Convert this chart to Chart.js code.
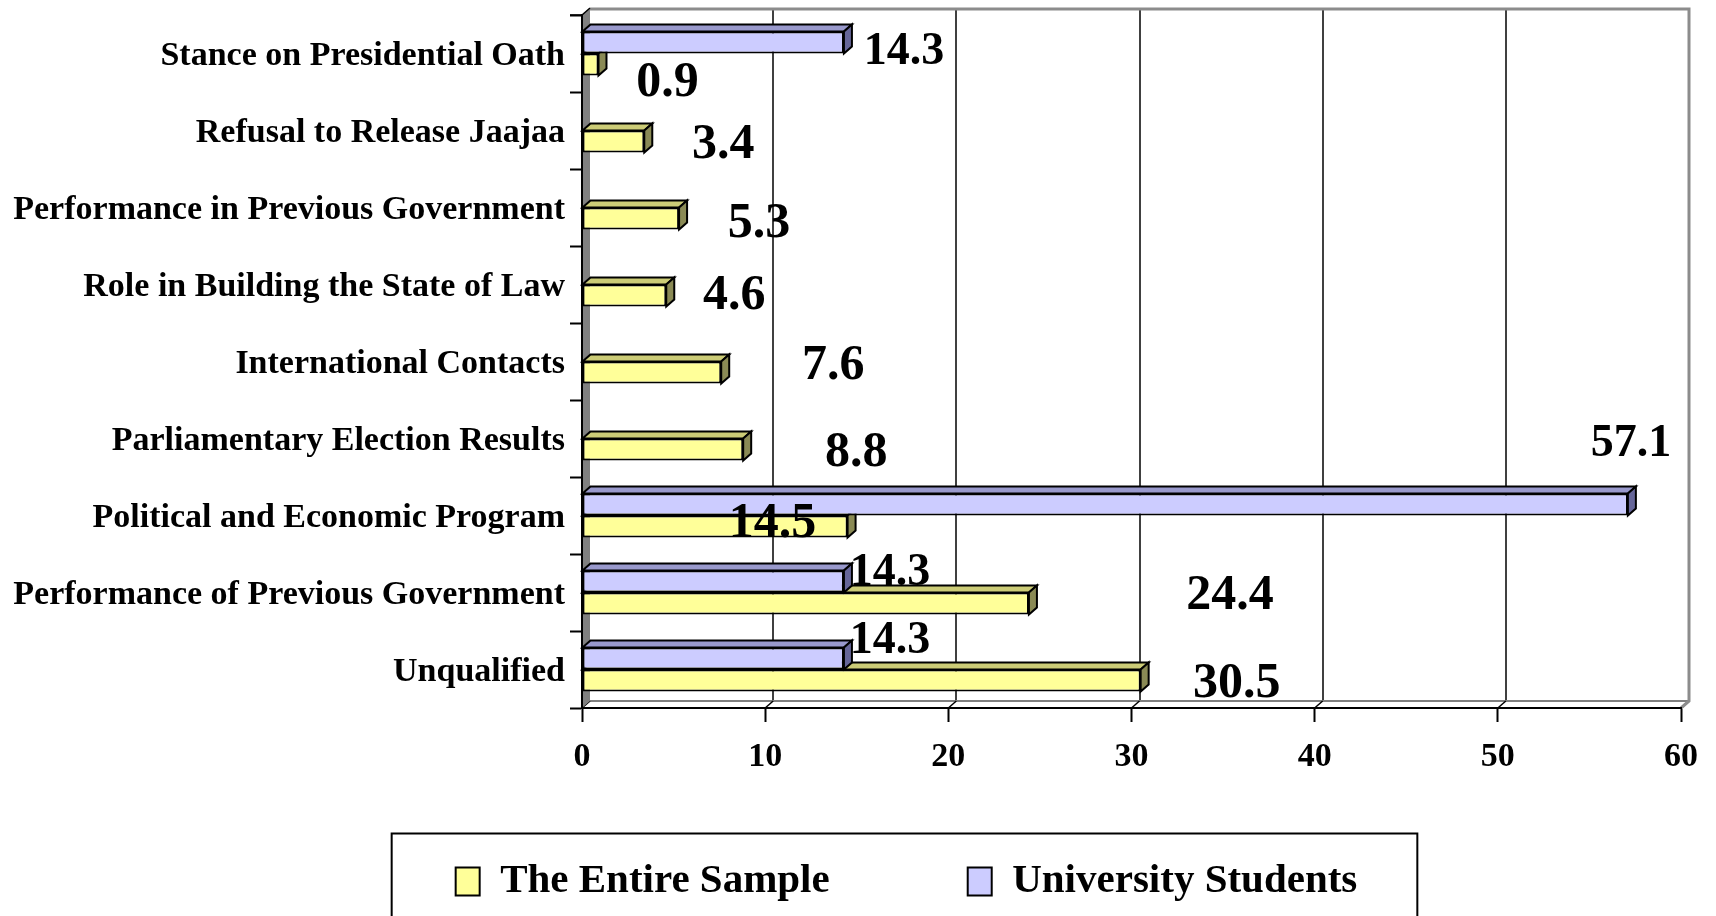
<!DOCTYPE html>
<html>
<head>
<meta charset="utf-8">
<script src="https://cdn.jsdelivr.net/npm/chart.js@4/dist/chart.umd.min.js"></script>
<style>
html,body{margin:0;padding:0;background:#fff;}
#wrap{width:1716px;height:916px;position:relative;}
</style>
</head>
<body>
<div id="wrap"><canvas id="c" width="1716" height="916"></canvas></div>
<script>
// ---- data ----
const categories = [
  'Stance on Presidential Oath',
  'Refusal to Release Jaajaa',
  'Performance in Previous Government',
  'Role in Building the State of Law',
  'International Contacts',
  'Parliamentary Election Results',
  'Political and Economic Program',
  'Performance of Previous Government',
  'Unqualified'
];
const entireSample       = [0.9, 3.4, 5.3, 4.6, 7.6, 8.8, 14.5, 24.4, 30.5];
const universityStudents = [14.3, 0, 0, 0, 0, 0, 57.1, 14.3, 14.3];
const seriesNames = ['The Entire Sample', 'University Students'];
const xTicks = [0, 10, 20, 30, 40, 50, 60];

// ---- label placement (offsets from bar end / bar centre, px) ----
const sampleLabelOffsets  = [[69,15],[79,0],[80,1.5],[68,-3],[112,-10],[113,0],[-75,-6],[201,-11],[96,0]];
const studentLabelOffsets = [[60,5.5],null,null,null,null,null,[3,-64],[46,-12],[46,-21]];

// ---- styles ----
const FONT = 'Liberation Serif';
const DX = 8, DY = 7;
const faceColors = [
  {top:'#9999CC', side:'#666699'},   // students (dataset 0)
  {top:'#CCCC77', side:'#8A8A55'}    // sample (dataset 1)
];

const noLabelClip = s => { s._computeLabelArea = function () { return undefined; }; };

const threeD = {
  id: 'threeD',
  beforeDraw(chart) {
    const {ctx, chartArea: a, scales: {x}} = chart;
    ctx.save();
    ctx.fillStyle = '#fff';
    ctx.fillRect(0, 0, chart.width, chart.height);
    // back-wall gridlines
    ctx.strokeStyle = '#000';
    ctx.lineWidth = 1.5;
    xTicks.forEach(v => {
      if (v === x.min || v === x.max) return;
      const px = Math.round(x.getPixelForValue(v)) + DX;
      ctx.beginPath();
      ctx.moveTo(px, a.top - DY);
      ctx.lineTo(px, a.bottom - DY);
      ctx.stroke();
    });
    // floor
    ctx.beginPath();
    ctx.moveTo(a.left, a.bottom);
    ctx.lineTo(a.left + DX, a.bottom - DY);
    ctx.lineTo(a.right + DX, a.bottom - DY);
    ctx.lineTo(a.right, a.bottom);
    ctx.closePath();
    ctx.fillStyle = '#fff';
    ctx.fill();
    ctx.strokeStyle = '#808080';
    ctx.lineWidth = 2;
    ctx.beginPath();
    ctx.moveTo(a.left + DX, a.bottom - DY);
    ctx.lineTo(a.right + DX, a.bottom - DY);
    ctx.stroke();
    ctx.strokeStyle = '#000';
    ctx.lineWidth = 1.5;
    xTicks.forEach(v => {
      const px = x.getPixelForValue(v);
      ctx.beginPath();
      ctx.moveTo(px, a.bottom);
      ctx.lineTo(px + DX, a.bottom - DY);
      ctx.stroke();
    });
    // back wall top & right edges
    ctx.strokeStyle = '#8c8c8c';
    ctx.lineWidth = 3;
    ctx.beginPath();
    ctx.moveTo(a.left + DX, a.top - DY + 1);
    ctx.lineTo(a.right + DX, a.top - DY + 1);
    ctx.lineTo(a.right + DX, a.bottom - DY);
    ctx.lineTo(a.right, a.bottom);
    ctx.stroke();
    // left wall
    ctx.beginPath();
    ctx.moveTo(a.left, a.top);
    ctx.lineTo(a.left + DX, a.top - DY);
    ctx.lineTo(a.left + DX, a.bottom - DY);
    ctx.lineTo(a.left, a.bottom);
    ctx.closePath();
    ctx.fillStyle = '#808080';
    ctx.fill();
    ctx.strokeStyle = '#000';
    ctx.lineWidth = 1.5;
    ctx.beginPath();
    ctx.moveTo(a.left - 12, a.top);
    ctx.lineTo(a.left, a.top);
    ctx.lineTo(a.left + DX, a.top - DY);
    ctx.stroke();
    ctx.restore();
  },
  beforeDatasetsDraw(chart) {
    const ctx = chart.ctx;
    ctx.save();
    ctx.strokeStyle = '#000';
    ctx.lineWidth = 2;
    ctx.lineJoin = 'miter';
    [1, 0].forEach(di => {
      const meta = chart.getDatasetMeta(di);
      const fc = faceColors[di];
      meta.data.forEach((el, i) => {
        const v = chart.data.datasets[di].data[i];
        if (!(v > 0)) return;
        const {x, y, base, height} = el.getProps(['x', 'y', 'base', 'height'], true);
        const t = y - height / 2, b = y + height / 2;
        ctx.beginPath();
        ctx.moveTo(base, t);
        ctx.lineTo(base + DX, t - DY);
        ctx.lineTo(x + DX, t - DY);
        ctx.lineTo(x, t);
        ctx.closePath();
        ctx.fillStyle = fc.top;
        ctx.fill();
        ctx.stroke();
        ctx.beginPath();
        ctx.moveTo(x, t);
        ctx.lineTo(x + DX, t - DY);
        ctx.lineTo(x + DX, b - DY);
        ctx.lineTo(x, b);
        ctx.closePath();
        ctx.fillStyle = fc.side;
        ctx.fill();
        ctx.stroke();
      });
    });
    ctx.restore();
  },
  afterDatasetsDraw(chart) {
    const ctx = chart.ctx;
    ctx.save();
    ctx.fillStyle = '#000';
    ctx.textAlign = 'center';
    ctx.textBaseline = 'alphabetic';
    const sets = [
      {di: 0, offs: studentLabelOffsets, size: 46},
      {di: 1, offs: sampleLabelOffsets, size: 50}
    ];
    sets.forEach(s => {
      ctx.font = 'bold ' + s.size + 'px "' + FONT + '"';
      const meta = chart.getDatasetMeta(s.di);
      meta.data.forEach((el, i) => {
        const v = chart.data.datasets[s.di].data[i];
        const off = s.offs[i];
        if (!(v > 0) || !off) return;
        const {x, y} = el.getProps(['x', 'y'], true);
        ctx.fillText(v.toFixed(1), x + off[0], y + off[1] + 0.338 * s.size);
      });
    });
    ctx.restore();
  },
  afterDraw(chart) {
    const lg = chart.legend;
    if (!lg || !lg.legendHitBoxes || !lg.legendHitBoxes.length) return;
    const hb = lg.legendHitBoxes;
    const first = hb[0], last = hb[hb.length - 1];
    const l = first.left - 64;
    const r = last.left + last.width + 60;
    const cy = first.top + first.height / 2;
    const ctx = chart.ctx;
    ctx.save();
    ctx.strokeStyle = '#000';
    ctx.lineWidth = 2;
    ctx.strokeRect(l, cy - 48, r - l, 200);
    ctx.restore();
  }
};

const chart = new Chart(document.getElementById('c'), {
  type: 'bar',
  data: {
    labels: categories,
    datasets: [
      {
        label: seriesNames[1],
        data: universityStudents.map(v => v > 0 ? v : null),
        backgroundColor: '#CCCCFF',
        borderColor: '#000',
        borderWidth: 2,
        borderSkipped: false,
        categoryPercentage: 0.57,
        barPercentage: 1.0
      },
      {
        label: seriesNames[0],
        data: entireSample,
        backgroundColor: '#FFFF99',
        borderColor: '#000',
        borderWidth: 2,
        borderSkipped: false,
        categoryPercentage: 0.57,
        barPercentage: 1.0
      }
    ]
  },
  options: {
    indexAxis: 'y',
    responsive: false,
    animation: false,
    devicePixelRatio: 1,
    layout: {padding: {top: 15, left: 132, right: 35, bottom: 4}},
    scales: {
      x: {
        min: 0, max: 60,
        afterBuildTicks: s => { s.ticks = xTicks.map(v => ({value: v})); },
        afterFit: s => { s.height = 15; s.paddingLeft = 0; s.paddingRight = 0; noLabelClip(s); },
        grid: {drawOnChartArea: false, drawTicks: true, tickLength: 14, tickColor: '#000', tickWidth: 2},
        border: {display: true, color: '#000', width: 2},
        ticks: {
          color: '#000', padding: 15, maxRotation: 0, autoSkip: false,
          font: {family: FONT, size: 34, weight: 'bold'}
        }
      },
      y: {
        afterFit: s => { s.width = 450; s.paddingTop = 0; s.paddingBottom = 0; noLabelClip(s); },
        grid: {drawOnChartArea: false, drawTicks: true, tickLength: 12, tickColor: '#000', tickWidth: 2, offset: true},
        border: {display: true, color: '#000', width: 2},
        ticks: {
          color: '#000', padding: 5, autoSkip: false, labelOffset: 3,
          font: {family: FONT, size: 34, weight: 'bold'}
        }
      }
    },
    plugins: {
      legend: {
        position: 'bottom',
        reverse: true,
        maxHeight: 195,
        labels: {
          color: '#000',
          boxWidth: 24,
          boxHeight: 28,
          padding: 138,
          font: {family: FONT, size: 41, weight: 'bold'}
        }
      },
      tooltip: {enabled: false}
    }
  },
  plugins: [threeD]
});
</script>
</body>
</html>
